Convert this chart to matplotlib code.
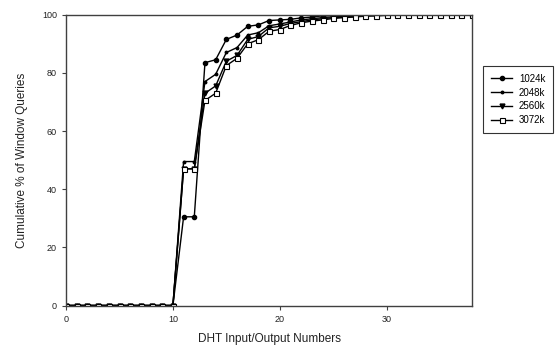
import numpy as np
import matplotlib
matplotlib.use('Agg')
import matplotlib.pyplot as plt

plt.rcParams['font.family'] = ['Liberation Sans', 'DejaVu Sans']

# DHT input/output numbers
x = list(range(39))

# Cumulative % of window queries per window size
q1024 = [0] * 11 + [30.5, 30.5, 83.5, 84.5, 91.5, 93, 96, 96.5, 98, 98.2,
                    98.4, 98.9, 99.2, 99.6, 99.8, 99.9] + [100] * 12
q2048 = [0] * 11 + [49.5, 49.5, 77, 79.5, 87, 88.7, 93, 93.8, 96.2, 96.8,
                    97.5, 98.2, 98.6, 99, 99.3, 99.5, 99.7, 99.8, 99.9] + [100] * 9
q2560 = [0] * 11 + [47, 47, 73, 75.5, 84, 86, 91.5, 92.5, 95.5, 96,
                    97, 97.6, 98.2, 98.6, 99, 99.2, 99.4, 99.6, 99.7, 99.8,
                    99.9] + [100] * 7
q3072 = [0] * 11 + [47, 47, 70.5, 73, 82.5, 85, 90, 91.4, 94.3, 94.9,
                    96.3, 97.2, 97.8, 98.2, 98.7, 99, 99.2, 99.5, 99.6, 99.8,
                    99.9] + [100] * 7

labels = ['1024k', '2048k', '2560k', '3072k']

fig = plt.figure(figsize=(5.6, 3.54), dpi=100)
ax = fig.add_axes([0.118, 0.137, 0.725, 0.8215])

ax.plot(x, q1024, color='black', lw=1, marker='o', ms=3, label=labels[0])
ax.plot(x, q2048, color='black', lw=1, marker='o', ms=1.8, label=labels[1])
ax.plot(x, q2560, color='black', lw=1, marker='v', ms=3.5, label=labels[2])
ax.plot(x, q3072, color='black', lw=1, marker='s', ms=3.6, mfc='white',
        mew=0.8, label=labels[3])

ax.set_xlim(0, 38)
ax.set_ylim(0, 100)
ax.set_xticks([0, 10, 20, 30])
ax.set_yticks([0, 20, 40, 60, 80, 100])
for s in ax.spines.values():
    s.set_color('#404040')
    s.set_linewidth(1)
ax.tick_params(colors='#404040', labelcolor='#222222', labelsize=6.5,
               length=3, width=0.8)

ax.set_xlabel('DHT Input/Output Numbers', fontsize=8.5, color='#222222', labelpad=7)
ax.set_ylabel('Cumulative % of Window Queries', fontsize=8.5, color='#222222', labelpad=10)

leg = ax.legend(loc='upper left', bbox_to_anchor=(1.027, 0.824), fontsize=7,
                frameon=True, fancybox=False, edgecolor='black',
                handlelength=2.2, labelspacing=0.4, borderpad=0.8,
                handletextpad=0.7, borderaxespad=0)
leg.get_frame().set_linewidth(0.8)

fig.savefig('out.png', dpi=100)
